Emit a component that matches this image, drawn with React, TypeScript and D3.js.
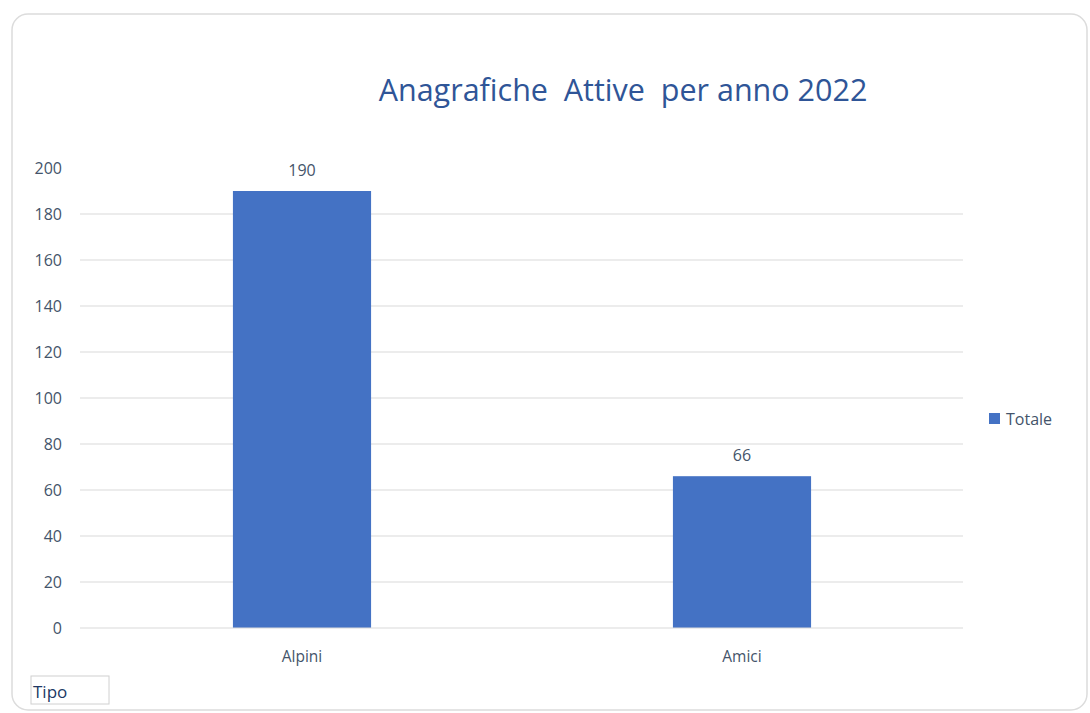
import * as d3 from "d3";
import React from "react";

const categories = ["Alpini", "Amici"];
const totals = [190, 66];
const yTicks = [0, 20, 40, 60, 80, 100, 120, 140, 160, 180, 200];
const title = "Anagrafiche  Attive  per anno 2022";
const seriesName = "Totale";
const fieldLabel = "Tipo";

const W = 1090;
const H = 713;
const font = "'Open Sans', 'Noto Sans', sans-serif";
const barColor = "#4472C4";
const tickColor = "#44546A";

export default function App() {
  const y = d3.scaleLinear().domain([0, 200]).range([628, 168]);
  const x = d3
    .scaleBand<string>()
    .domain(categories)
    .range([82, 962])
    .paddingInner(0.686)
    .paddingOuter(0.343);

  const gridLeft = 80;
  const gridRight = 963;

  return (
    <svg
      width={W}
      height={H}
      style={{ display: "block", position: "absolute", left: 0, top: 0 }}
    >
      <rect width={W} height={H} fill="#fff" />
      {/* card border */}
      <rect
        x={12}
        y={14}
        width={1075}
        height={696}
        rx={16}
        fill="#fff"
        stroke="#dcdcdc"
        strokeWidth={1.5}
      />
      <text
        x={623}
        y={101}
        textAnchor="middle"
        fontFamily={font}
        fontSize={30.5}
        fill="#2F5597"
        style={{ whiteSpace: "pre" }}
      >
        {title}
      </text>

      {yTicks.map((t) => (
        <g key={t}>
          {t > 0 && t < 200 && (
            <line
              x1={gridLeft}
              x2={gridRight}
              y1={y(t)}
              y2={y(t)}
              stroke="#d9d9d9"
              strokeWidth={1.2}
            />
          )}
          <text
            x={62}
            y={y(t) + 6}
            textAnchor="end"
            fontFamily={font}
            fontSize={16}
            fill={tickColor}
          >
            {t}
          </text>
        </g>
      ))}

      {categories.map((c, i) => (
        <g key={c}>
          <rect
            x={x(c)}
            y={y(totals[i])}
            width={x.bandwidth()}
            height={y(0) - y(totals[i])}
            fill={barColor}
          />
          <text
            x={x(c)! + x.bandwidth() / 2}
            y={y(totals[i]) - 15}
            textAnchor="middle"
            fontFamily={font}
            fontSize={16}
            fill={tickColor}
          >
            {totals[i]}
          </text>
          <text
            x={x(c)! + x.bandwidth() / 2}
            y={662}
            textAnchor="middle"
            fontFamily={font}
            fontSize={15.5}
            fill={tickColor}
          >
            {c}
          </text>
        </g>
      ))}

      <line
        x1={gridLeft}
        x2={gridRight}
        y1={y(0)}
        y2={y(0)}
        stroke="#d9d9d9"
        strokeWidth={1.2}
      />

      {/* legend */}
      <rect x={989} y={413} width={11} height={11} fill={barColor} />
      <text
        x={1006}
        y={425}
        fontFamily={font}
        fontSize={16}
        fill={tickColor}
      >
        {seriesName}
      </text>

      {/* field button */}
      <rect
        x={31}
        y={676}
        width={78}
        height={28}
        fill="#fff"
        stroke="#d0d0d0"
        strokeWidth={1}
      />
      <text x={33} y={698} fontFamily={font} fontSize={17} fill="#203864">
        {fieldLabel}
      </text>
    </svg>
  );
}
